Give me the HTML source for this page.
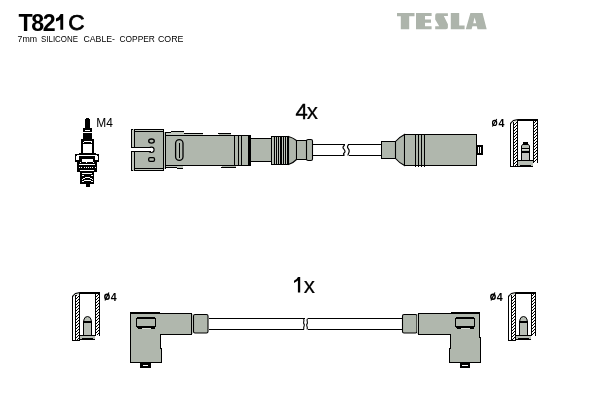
<!DOCTYPE html>
<html><head><meta charset="utf-8">
<style>
html,body{margin:0;padding:0;background:#fff;width:600px;height:400px;overflow:hidden}
svg{position:absolute;left:0;top:0;display:block;will-change:transform}
text{font-family:"Liberation Sans",sans-serif}
</style></head>
<body>
<svg width="600" height="400" viewBox="0 0 600 400">
<defs>
  <pattern id="hatch" width="3" height="3" patternUnits="userSpaceOnUse">
    <rect width="3" height="3" fill="#fff"/><rect x="2" y="0" width="1" height="1" fill="#000"/><rect x="1" y="1" width="1" height="1" fill="#000"/><rect x="0" y="2" width="1" height="1" fill="#000"/>
  </pattern>
</defs>
<rect width="600" height="400" fill="#fff"/>
<!-- Title -->
<g font-size="23.2" font-weight="bold" fill="#000">
<text x="18.6" y="30.6">T</text>
<text x="31.2" y="30.6">8</text>
<text x="42.8" y="30.6">2</text>
</g>
<path d="M60.6,14 H63.2 V29.8 H60.3 V19.4 Q58.6,20.8 56,21.4 V18.6 Q59.2,17.4 60.6,14 Z" fill="#000"/>
<text x="68.3" y="30.2" font-size="22.6" fill="#000" stroke="#000" stroke-width="0.75">C</text>
<g font-size="8.7" fill="#000"><text x="17.5" y="41.6" textLength="19.5" lengthAdjust="spacingAndGlyphs">7mm</text><text x="41.0" y="41.6" textLength="37.0" lengthAdjust="spacingAndGlyphs">SILICONE</text><text x="83.5" y="41.6" textLength="31.5" lengthAdjust="spacingAndGlyphs">CABLE-</text><text x="119.5" y="41.6" textLength="35.4" lengthAdjust="spacingAndGlyphs">COPPER</text><text x="158.0" y="41.6" textLength="25.5" lengthAdjust="spacingAndGlyphs">CORE</text></g>

<!-- TESLA logo -->
<g fill="#adb4ab">
  <path d="M397,13 H414.5 V16.3 H409.2 V29.3 H400.8 V16.3 H397 Z"/>
  <path d="M416,13 H431.6 V16.1 H425 V19.5 H431 V22.7 H425 V26.3 H431.6 V29.3 H416 Z"/>
  <path d="M437,13.3 H447.9 V15.9 H443.8 L447.9,24.3 V27.5 Q447.9,29.3 446,29.3 H435.2 V26.2 H439.2 L435.2,19.6 V15.5 Q435.2,13.3 437,13.3 Z"/>
  <path d="M450.8,13 H459.2 V25.5 H464.6 V29.3 H450.8 Z"/>
  <path d="M470.4,13 H482.5 L486.7,29.3 H477.5 L476.8,26.3 H472.4 L471.6,29.3 H465.8 Z M474.6,17.5 L473.2,23.3 H476.2 Z" fill-rule="evenodd"/>
</g>

<!-- 4x / 1x -->
<text x="295.4" y="118.7" font-size="22" fill="#000" stroke="#000" stroke-width="0.4">4</text><text x="306.8" y="118.8" font-size="22.4" fill="#000" stroke="#000" stroke-width="0.2">x</text>
<path d="M298,277.1 H300.2 V292.6 H297.9 V280.6 Q296.3,282.1 294,283 V280.8 Q296.8,279.6 298,277.1 Z" fill="#000"/>
<text x="303.8" y="292.8" font-size="22.4" fill="#000" stroke="#000" stroke-width="0.2">x</text>

<!-- M4 -->
<text x="96.3" y="126.7" font-size="12.4" fill="#000" textLength="16.6" lengthAdjust="spacingAndGlyphs">M4</text>

<!-- diameter labels -->
<g fill="none" stroke="#000">
  <ellipse cx="494.6" cy="122.9" rx="2.1" ry="2.5" stroke-width="1.15"/>
  <line x1="492.4" y1="126.6" x2="496.7" y2="119.1" stroke-width="1.1"/>
  <ellipse cx="107" cy="296.8" rx="2.2" ry="2.5" stroke-width="1.4"/>
  <line x1="105" y1="300.4" x2="108.9" y2="292.4" stroke-width="1.2"/>
  <ellipse cx="493" cy="296.8" rx="2.2" ry="2.5" stroke-width="1.4"/>
  <line x1="491" y1="300.4" x2="494.9" y2="292.4" stroke-width="1.2"/>
</g>
<g font-size="10.6" font-weight="bold" fill="#000">
<text x="498.6" y="126.6">4</text>
<text x="110.8" y="300.5">4</text>
<text x="496.8" y="300.5">4</text>
</g>
<g shape-rendering="crispEdges">
<rect x="131" y="129" width="1" height="42" fill="#000"/>
<rect x="132" y="129" width="2" height="42" fill="#c2c8bf"/>
<rect x="134" y="129" width="30" height="42" fill="#b0b7ad"/>
<rect x="134" y="129" width="30" height="1" fill="#000"/>
<rect x="132" y="129" width="1" height="1" fill="#000"/>
<rect x="134" y="131" width="30" height="1" fill="#000"/>
<rect x="135" y="130" width="28" height="1" fill="#c2c8bf"/>
<rect x="134" y="168" width="30" height="1" fill="#000"/>
<rect x="134" y="170" width="30" height="1" fill="#000"/>
<rect x="132" y="170" width="1" height="1" fill="#000"/>
<rect x="135" y="169" width="28" height="1" fill="#c2c8bf"/>
<rect x="134" y="129" width="1" height="42" fill="#000"/>
<rect x="163" y="129" width="1" height="42" fill="#000"/>
<rect x="164" y="132" width="1" height="37" fill="#c2c8bf"/>
</g><circle cx="151.4" cy="149.8" r="2.7" fill="#fff" stroke="#000" stroke-width="1.1" shape-rendering="geometricPrecision"/><g shape-rendering="crispEdges">
<rect x="131" y="147" width="20" height="1" fill="#000"/>
<rect x="131" y="151" width="20" height="1" fill="#000"/>
<rect x="131" y="148" width="21" height="3" fill="#fff"/>
</g><ellipse cx="151.5" cy="141.1" rx="2.8" ry="2.1" fill="none" stroke="#000" stroke-width="1.3" shape-rendering="geometricPrecision"/><g shape-rendering="crispEdges">
</g><rect x="148.7" y="157.6" width="5.8" height="3.8" rx="1.3" fill="none" stroke="#000" stroke-width="1.3" shape-rendering="geometricPrecision"/><g shape-rendering="crispEdges">
<rect x="165" y="135" width="86" height="31" fill="#b0b7ad"/>
<rect x="165" y="132" width="1" height="37" fill="#000"/>
<rect x="165" y="132" width="6" height="1" fill="#000"/>
<rect x="171" y="131" width="13" height="1" fill="#000"/>
<rect x="171" y="132" width="13" height="3" fill="#c2c8bf"/>
<rect x="166" y="133" width="5" height="2" fill="#c2c8bf"/>
<rect x="184" y="133" width="19" height="1" fill="#000"/>
<rect x="184" y="134" width="19" height="1" fill="#c2c8bf"/>
<rect x="218" y="133" width="13" height="1" fill="#000"/>
<rect x="219" y="134" width="12" height="1" fill="#b0b7ad"/>
<rect x="165" y="135" width="86" height="1" fill="#000"/>
<rect x="165" y="167" width="12" height="1" fill="#000"/>
<rect x="177" y="168" width="6" height="1" fill="#000"/>
<rect x="166" y="166" width="11" height="1" fill="#c2c8bf"/>
<rect x="177" y="166" width="6" height="2" fill="#c2c8bf"/>
<rect x="221" y="167" width="15" height="1" fill="#000"/>
<rect x="222" y="166" width="14" height="1" fill="#b0b7ad"/>
<rect x="165" y="165" width="86" height="1" fill="#000"/>
</g><rect x="175.6" y="139.6" width="7.4" height="20.8" rx="3.7" fill="none" stroke="#000" stroke-width="1.3" shape-rendering="geometricPrecision"/><g shape-rendering="crispEdges">
<rect x="179" y="143" width="1" height="15" fill="#000"/>
<rect x="234" y="135" width="1" height="31" fill="#000"/>
<rect x="238" y="135" width="1" height="31" fill="#000"/>
<rect x="241" y="135" width="1" height="31" fill="#000"/>
<rect x="248" y="135" width="3" height="31" fill="#000"/>
<rect x="251" y="138" width="21" height="24" fill="#b0b7ad"/>
<rect x="251" y="138" width="21" height="1" fill="#000"/>
<rect x="251" y="161" width="21" height="1" fill="#000"/>
<rect x="271" y="136" width="18" height="29" fill="#b0b7ad"/>
<rect x="272" y="137" width="1" height="27" fill="#bec4bb"/>
<rect x="275" y="137" width="1" height="27" fill="#bec4bb"/>
<rect x="277" y="137" width="1" height="27" fill="#bec4bb"/>
<rect x="279" y="137" width="1" height="27" fill="#bec4bb"/>
<rect x="282" y="137" width="1" height="27" fill="#bec4bb"/>
<rect x="284" y="137" width="1" height="27" fill="#bec4bb"/>
<rect x="286" y="137" width="1" height="27" fill="#bec4bb"/>
<rect x="271" y="136" width="1" height="29" fill="#000"/>
<rect x="274" y="136" width="1" height="29" fill="#000"/>
<rect x="276" y="136" width="1" height="29" fill="#000"/>
<rect x="278" y="136" width="1" height="29" fill="#000"/>
<rect x="280" y="136" width="1" height="29" fill="#000"/>
<rect x="281" y="136" width="1" height="29" fill="#000"/>
<rect x="283" y="136" width="1" height="29" fill="#000"/>
<rect x="285" y="136" width="1" height="29" fill="#000"/>
<rect x="287" y="136" width="1" height="29" fill="#000"/>
<rect x="288" y="136" width="1" height="29" fill="#000"/>
<rect x="271" y="136" width="18" height="1" fill="#000"/>
<rect x="271" y="164" width="18" height="1" fill="#000"/>
</g><path d="M288.5,136.5 Q293,137.8 296.5,140.5 V159.5 Q293,163.2 288.5,164.5 Z" fill="#b0b7ad" stroke="#000" stroke-width="1.1" shape-rendering="geometricPrecision"/><g shape-rendering="crispEdges">
<rect x="296" y="140" width="11" height="20" fill="#b0b7ad"/>
<rect x="296" y="140" width="11" height="1" fill="#000"/>
<rect x="296" y="159" width="11" height="1" fill="#000"/>
<rect x="296" y="140" width="1" height="20" fill="#000"/>
<rect x="306" y="140" width="1" height="20" fill="#000"/>
</g><rect x="306.5" y="139.5" width="6" height="21" rx="1.6" fill="#b0b7ad" stroke="#000" stroke-width="1.1" shape-rendering="geometricPrecision"/><g shape-rendering="crispEdges">
<rect x="313" y="144" width="32" height="1" fill="#000"/>
<rect x="313" y="155" width="31" height="1" fill="#000"/>
<rect x="348" y="144" width="33" height="1" fill="#000"/>
<rect x="349" y="155" width="32" height="1" fill="#000"/>
</g><path d="M344.5,144.5 C344.5,146 343,146 343,147.5 C343,149 345,149.5 345,151.5 C345,153 343.5,153 343.5,154 C343.5,155 344.5,155 344.5,155.5" fill="none" stroke="#000" stroke-width="1.2" shape-rendering="geometricPrecision"/><g shape-rendering="crispEdges">
</g><path d="M348.5,144.5 C348.5,145.5 347.5,145.5 347.5,147 C347.5,148.5 349.2,149 349.2,151 C349.2,153 348,153.5 348,155.5" fill="none" stroke="#000" stroke-width="1.2" shape-rendering="geometricPrecision"/><g shape-rendering="crispEdges">
<rect x="381" y="141" width="15" height="18" fill="#b0b7ad"/>
<rect x="381" y="141" width="15" height="1" fill="#000"/>
<rect x="381" y="158" width="15" height="1" fill="#000"/>
<rect x="381" y="141" width="1" height="18" fill="#000"/>
<rect x="395" y="141" width="1" height="18" fill="#000"/>
</g><path d="M395.5,141.5 Q399.2,137.2 404.5,134.5 V165.5 Q399.2,162.8 395.5,158.5 Z" fill="#b0b7ad" stroke="#000" stroke-width="1.1" shape-rendering="geometricPrecision"/><g shape-rendering="crispEdges">
<rect x="404" y="134" width="73" height="32" fill="#b0b7ad"/>
<rect x="404" y="134" width="73" height="1" fill="#000"/>
<rect x="404" y="165" width="73" height="1" fill="#000"/>
<rect x="404" y="134" width="1" height="32" fill="#000"/>
<rect x="476" y="134" width="1" height="32" fill="#000"/>
<rect x="415" y="134" width="1" height="33" fill="#000"/>
<rect x="418" y="134" width="1" height="33" fill="#000"/>
<rect x="421" y="134" width="1" height="33" fill="#000"/>
<rect x="424" y="134" width="1" height="33" fill="#000"/>
<rect x="477" y="145" width="6" height="10" fill="#000"/>
<rect x="478" y="147" width="1" height="6" fill="#fff"/>
<rect x="480" y="147" width="1" height="6" fill="#fff"/>
</g><path d="M130,312 H160 V313 H192 V335 H161 V348 H162 V363 H130 Z" fill="#b0b7ad" shape-rendering="geometricPrecision"/><g shape-rendering="crispEdges">
<rect x="130" y="312" width="30" height="2" fill="#000"/>
<rect x="160" y="313" width="32" height="1" fill="#000"/>
<rect x="130" y="312" width="1" height="51" fill="#000"/>
<rect x="130" y="362" width="32" height="1" fill="#000"/>
<rect x="160" y="334" width="32" height="1" fill="#000"/>
<rect x="160" y="334" width="1" height="15" fill="#000"/>
<rect x="161" y="348" width="1" height="15" fill="#000"/>
<rect x="191" y="313" width="1" height="22" fill="#000"/>
<rect x="192" y="314" width="1" height="20" fill="#c2c8bf"/>
</g><rect x="193.5" y="314.5" width="14.5" height="18.5" rx="1.5" fill="#b0b7ad" stroke="#000" stroke-width="1.1" shape-rendering="geometricPrecision"/><g shape-rendering="crispEdges">
<rect x="137" y="317" width="18" height="2" fill="#000"/>
<rect x="136" y="318" width="1" height="9" fill="#000"/>
<rect x="155" y="318" width="1" height="9" fill="#000"/>
<rect x="136" y="326" width="20" height="1" fill="#000"/>
<rect x="137" y="327" width="18" height="1" fill="#000"/>
<rect x="138" y="328" width="4" height="1" fill="#000"/>
<rect x="151" y="328" width="4" height="1" fill="#000"/>
<rect x="142" y="328" width="9" height="1" fill="#d6dad3"/>
<rect x="140" y="363" width="11" height="5" fill="#000"/>
<rect x="143" y="365" width="5" height="1" fill="#fff"/>
<rect x="209" y="318" width="96" height="1" fill="#000"/>
<rect x="209" y="329" width="95" height="1" fill="#000"/>
<rect x="308" y="318" width="94" height="1" fill="#000"/>
<rect x="308" y="329" width="94" height="1" fill="#000"/>
</g><path d="M303.5,318.5 C305,321 302.5,322.5 304,324 C305.5,325.5 302.5,327 304,329.5" fill="none" stroke="#000" stroke-width="1.1" shape-rendering="geometricPrecision"/><g shape-rendering="crispEdges">
</g><path d="M307.5,318.5 C306,321 308.5,322.5 307,324 C305.5,325.5 308.5,327 307,329.5" fill="none" stroke="#000" stroke-width="1.1" shape-rendering="geometricPrecision"/><g shape-rendering="crispEdges">
</g><rect x="402.5" y="314.5" width="14.5" height="18.5" rx="1.5" fill="#b0b7ad" stroke="#000" stroke-width="1.1" shape-rendering="geometricPrecision"/><g shape-rendering="crispEdges">
<rect x="417" y="314" width="1" height="20" fill="#c2c8bf"/>
</g><path d="M418,313 H451 V312 H480 V338 H481 V363 H449 V349 H450 V335 H418 Z" fill="#b0b7ad" shape-rendering="geometricPrecision"/><g shape-rendering="crispEdges">
<rect x="418" y="313" width="34" height="1" fill="#000"/>
<rect x="451" y="312" width="29" height="2" fill="#000"/>
<rect x="418" y="313" width="1" height="22" fill="#000"/>
<rect x="418" y="334" width="33" height="1" fill="#000"/>
<rect x="450" y="334" width="1" height="15" fill="#000"/>
<rect x="449" y="348" width="1" height="15" fill="#000"/>
<rect x="479" y="312" width="1" height="26" fill="#000"/>
<rect x="480" y="337" width="1" height="26" fill="#000"/>
<rect x="449" y="362" width="32" height="1" fill="#000"/>
<rect x="456" y="317" width="18" height="2" fill="#000"/>
<rect x="455" y="318" width="1" height="9" fill="#000"/>
<rect x="474" y="318" width="1" height="9" fill="#000"/>
<rect x="455" y="326" width="20" height="1" fill="#000"/>
<rect x="456" y="327" width="18" height="1" fill="#000"/>
<rect x="457" y="328" width="4" height="1" fill="#000"/>
<rect x="470" y="328" width="4" height="1" fill="#000"/>
<rect x="461" y="328" width="9" height="1" fill="#d6dad3"/>
<rect x="460" y="363" width="10" height="5" fill="#000"/>
<rect x="462" y="365" width="6" height="1" fill="#fff"/>
</g>
<g shape-rendering="crispEdges">
<rect x="86" y="118" width="3" height="1" fill="#000" shape-rendering="crispEdges"/>
<rect x="85" y="119" width="5" height="9" fill="#000" shape-rendering="crispEdges"/>
<rect x="83" y="128" width="9" height="11" fill="#000" shape-rendering="crispEdges"/>
<rect x="85" y="130" width="5" height="1" fill="#fff" shape-rendering="crispEdges"/>
<rect x="83" y="132" width="9" height="1" fill="#fff" shape-rendering="crispEdges"/>
<rect x="81" y="139" width="13" height="5" fill="#000" shape-rendering="crispEdges"/>
<rect x="84" y="141" width="8" height="1" fill="#fff" shape-rendering="crispEdges"/>
<rect x="83" y="142" width="1" height="1" fill="#fff" shape-rendering="crispEdges"/>
<rect x="91" y="142" width="1" height="1" fill="#fff" shape-rendering="crispEdges"/>
<rect x="81" y="144" width="2" height="10" fill="#000" shape-rendering="crispEdges"/>
<rect x="92" y="144" width="2" height="10" fill="#000" shape-rendering="crispEdges"/>
<rect x="79" y="153" width="17" height="1" fill="#000" shape-rendering="crispEdges"/>
<rect x="75" y="154" width="24" height="8" fill="#000" shape-rendering="crispEdges"/>
<rect x="77" y="155" width="20" height="1" fill="#fff" shape-rendering="crispEdges"/>
<rect x="76" y="156" width="3" height="4" fill="#fff" shape-rendering="crispEdges"/>
<rect x="95" y="156" width="3" height="4" fill="#fff" shape-rendering="crispEdges"/>
<rect x="82" y="159" width="11" height="3" fill="#fff" shape-rendering="crispEdges"/>
<rect x="77" y="162" width="20" height="10" fill="#000" shape-rendering="crispEdges"/>
<rect x="80" y="162" width="1" height="1" fill="#fff" shape-rendering="crispEdges"/>
<rect x="86" y="162" width="1" height="1" fill="#fff" shape-rendering="crispEdges"/>
<rect x="93" y="162" width="1" height="1" fill="#fff" shape-rendering="crispEdges"/>
<rect x="79" y="164" width="16" height="1" fill="#fff" shape-rendering="crispEdges"/>
<rect x="79" y="167" width="1" height="1" fill="#fff" shape-rendering="crispEdges"/>
<rect x="81" y="167" width="1" height="1" fill="#fff" shape-rendering="crispEdges"/>
<rect x="84" y="167" width="1" height="1" fill="#fff" shape-rendering="crispEdges"/>
<rect x="86" y="167" width="1" height="1" fill="#fff" shape-rendering="crispEdges"/>
<rect x="88" y="167" width="1" height="1" fill="#fff" shape-rendering="crispEdges"/>
<rect x="90" y="167" width="1" height="1" fill="#fff" shape-rendering="crispEdges"/>
<rect x="92" y="167" width="1" height="1" fill="#fff" shape-rendering="crispEdges"/>
<rect x="95" y="167" width="1" height="1" fill="#fff" shape-rendering="crispEdges"/>
<rect x="80" y="170" width="14" height="1" fill="#fff" shape-rendering="crispEdges"/>
<rect x="80" y="172" width="14" height="12" fill="#000" shape-rendering="crispEdges"/>
<rect x="82" y="173" width="10" height="1" fill="#fff" shape-rendering="crispEdges"/>
<rect x="82" y="175" width="2" height="1" fill="#fff" shape-rendering="crispEdges"/>
<rect x="91" y="175" width="2" height="1" fill="#fff" shape-rendering="crispEdges"/>
<rect x="85" y="177" width="5" height="1" fill="#fff" shape-rendering="crispEdges"/>
<rect x="83" y="178" width="2" height="1" fill="#fff" shape-rendering="crispEdges"/>
<rect x="90" y="178" width="2" height="1" fill="#fff" shape-rendering="crispEdges"/>
<rect x="82" y="179" width="1" height="1" fill="#fff" shape-rendering="crispEdges"/>
<rect x="92" y="179" width="1" height="1" fill="#fff" shape-rendering="crispEdges"/>
<rect x="84" y="180" width="7" height="1" fill="#fff" shape-rendering="crispEdges"/>
<rect x="82" y="181" width="2" height="1" fill="#fff" shape-rendering="crispEdges"/>
<rect x="91" y="181" width="2" height="1" fill="#fff" shape-rendering="crispEdges"/>
<rect x="86" y="184" width="4" height="3" fill="#000" shape-rendering="crispEdges"/>
</g>
<rect x="510" y="123" width="1" height="44" fill="#000" shape-rendering="crispEdges"/>
<rect x="513" y="122" width="1" height="45" fill="#000" shape-rendering="crispEdges"/>
<rect x="514" y="122" width="3" height="44" fill="url(#hatch)"/>
<rect x="517" y="120" width="1" height="47" fill="#000" shape-rendering="crispEdges"/>
<path d="M510.5,123.5 L513.5,120.5 L518,119.6" fill="none" stroke="#000" stroke-width="1.3"/>
<path d="M511,123.5 L513.5,121 L517,120.5 V122 H513 V123.5 Z" fill="#dfe2dc"/>
<rect x="518" y="119" width="20" height="2" fill="#000" shape-rendering="crispEdges"/>
<rect x="533" y="120" width="1" height="43" fill="#000" shape-rendering="crispEdges"/>
<rect x="534" y="121" width="3" height="41" fill="url(#hatch)"/>
<rect x="537" y="119" width="1" height="44" fill="#000" shape-rendering="crispEdges"/>
<rect x="510" y="166" width="8" height="1" fill="#000" shape-rendering="crispEdges"/>
<rect x="523" y="142" width="5" height="2" fill="#000" shape-rendering="crispEdges"/>
<path d="M522.5,144.5 H528.5 L529.5,146 V160.5 H521.5 V146 Z" fill="#b9bfb6" stroke="#000" stroke-width="1"/>
<rect x="521" y="148" width="9" height="1" fill="#000" shape-rendering="crispEdges"/>
<rect x="522" y="149" width="7" height="1" fill="#d9dbd6" shape-rendering="crispEdges"/>
<rect x="521" y="151" width="9" height="1" fill="#000" shape-rendering="crispEdges"/>
<rect x="522" y="152" width="7" height="1" fill="#000" shape-rendering="crispEdges"/>
<rect x="522" y="153" width="7" height="7" fill="#c2c4bf" shape-rendering="crispEdges"/>
<rect x="521" y="146" width="1" height="15" fill="#000" shape-rendering="crispEdges"/>
<rect x="529" y="146" width="1" height="15" fill="#000" shape-rendering="crispEdges"/>
<rect x="518" y="160" width="15" height="7" fill="#b9bfb6" shape-rendering="crispEdges"/>
<rect x="518" y="160" width="15" height="1" fill="#000" shape-rendering="crispEdges"/>
<rect x="518" y="166" width="15" height="1" fill="#000" shape-rendering="crispEdges"/>
<rect x="520" y="165" width="11" height="1" fill="#000" shape-rendering="crispEdges"/>
<rect x="72" y="296" width="1" height="45" fill="#000" shape-rendering="crispEdges"/>
<rect x="75" y="295" width="1" height="46" fill="#000" shape-rendering="crispEdges"/>
<rect x="76" y="295" width="3" height="45" fill="url(#hatch)"/>
<rect x="79" y="293" width="1" height="48" fill="#000" shape-rendering="crispEdges"/>
<path d="M72.5,296.5 L75.5,293.5 L80,292.6" fill="none" stroke="#000" stroke-width="1.3"/>
<path d="M73,296.5 L75.5,294 L79,293.5 V295 H75 V296.5 Z" fill="#dfe2dc"/>
<rect x="80" y="292" width="20" height="2" fill="#000" shape-rendering="crispEdges"/>
<rect x="95" y="293" width="1" height="43" fill="#000" shape-rendering="crispEdges"/>
<rect x="96" y="294" width="3" height="41" fill="url(#hatch)"/>
<rect x="99" y="292" width="1" height="44" fill="#000" shape-rendering="crispEdges"/>
<rect x="72" y="340" width="8" height="1" fill="#000" shape-rendering="crispEdges"/>
<path d="M83.8,321.5 V320 Q84.5,316.5 87.5,316.5 Q90.5,316.5 91.2,320 V321.5 Z" fill="#b9bfb6" stroke="#000" stroke-width="1"/>
<rect x="83" y="321" width="9" height="2" fill="#000" shape-rendering="crispEdges"/>
<rect x="84" y="323" width="7" height="12" fill="#b9bfb6" shape-rendering="crispEdges"/>
<rect x="83" y="323" width="1" height="13" fill="#000" shape-rendering="crispEdges"/>
<rect x="91" y="323" width="1" height="13" fill="#000" shape-rendering="crispEdges"/>
<rect x="80" y="335" width="15" height="5" fill="#b9bfb6" shape-rendering="crispEdges"/>
<rect x="80" y="335" width="15" height="1" fill="#000" shape-rendering="crispEdges"/>
<rect x="80" y="339" width="15" height="1" fill="#000" shape-rendering="crispEdges"/>
<rect x="82" y="338" width="11" height="1" fill="#000" shape-rendering="crispEdges"/>
<rect x="508" y="296" width="1" height="45" fill="#000" shape-rendering="crispEdges"/>
<rect x="511" y="295" width="1" height="46" fill="#000" shape-rendering="crispEdges"/>
<rect x="512" y="295" width="3" height="45" fill="url(#hatch)"/>
<rect x="515" y="293" width="1" height="48" fill="#000" shape-rendering="crispEdges"/>
<path d="M508.5,296.5 L511.5,293.5 L516,292.6" fill="none" stroke="#000" stroke-width="1.3"/>
<path d="M509,296.5 L511.5,294 L515,293.5 V295 H511 V296.5 Z" fill="#dfe2dc"/>
<rect x="516" y="292" width="20" height="2" fill="#000" shape-rendering="crispEdges"/>
<rect x="531" y="293" width="1" height="43" fill="#000" shape-rendering="crispEdges"/>
<rect x="532" y="294" width="3" height="41" fill="url(#hatch)"/>
<rect x="535" y="292" width="1" height="44" fill="#000" shape-rendering="crispEdges"/>
<rect x="508" y="340" width="8" height="1" fill="#000" shape-rendering="crispEdges"/>
<path d="M519.8,321.5 V320 Q520.5,316.5 523.5,316.5 Q526.5,316.5 527.2,320 V321.5 Z" fill="#b9bfb6" stroke="#000" stroke-width="1"/>
<rect x="519" y="321" width="9" height="2" fill="#000" shape-rendering="crispEdges"/>
<rect x="520" y="323" width="7" height="12" fill="#b9bfb6" shape-rendering="crispEdges"/>
<rect x="519" y="323" width="1" height="13" fill="#000" shape-rendering="crispEdges"/>
<rect x="527" y="323" width="1" height="13" fill="#000" shape-rendering="crispEdges"/>
<rect x="516" y="335" width="15" height="5" fill="#b9bfb6" shape-rendering="crispEdges"/>
<rect x="516" y="335" width="15" height="1" fill="#000" shape-rendering="crispEdges"/>
<rect x="516" y="339" width="15" height="1" fill="#000" shape-rendering="crispEdges"/>
<rect x="518" y="338" width="11" height="1" fill="#000" shape-rendering="crispEdges"/>
</svg>
</body></html>
